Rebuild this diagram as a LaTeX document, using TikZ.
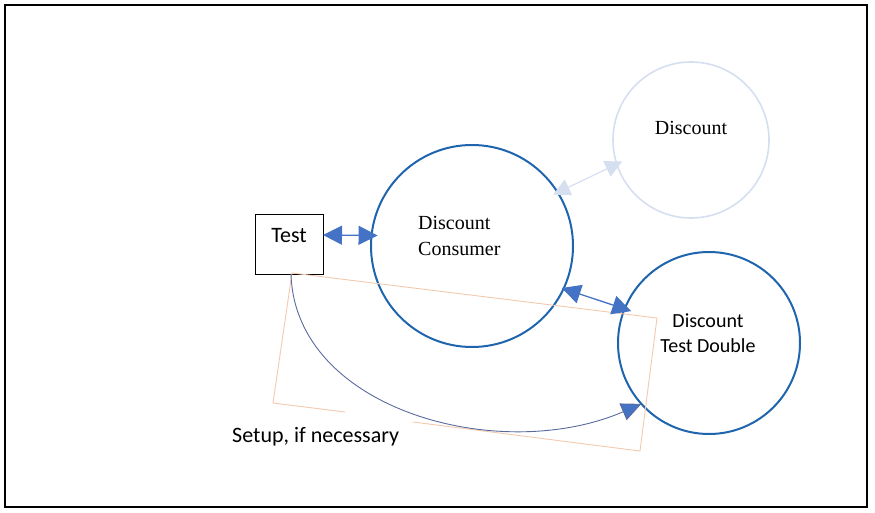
\documentclass[tikz,border=0pt]{standalone}
\usepackage{fontspec}
\setmainfont{Liberation Serif}
\newfontfamily\calib{Carlito}
\usetikzlibrary{arrows.meta}
\definecolor{circblue}{HTML}{1F65AE}
\definecolor{headblue}{HTML}{4472C4}
\definecolor{paleblue}{HTML}{D5DFF0}
\definecolor{paleorange}{HTML}{F3C9AE}
\definecolor{curveblue}{HTML}{5A6A9C}
\tikzset{
  bigcirc/.style={circle, draw=circblue, line width=2pt, inner sep=0pt, outer sep=0pt},
  palecirc/.style={circle, draw=paleblue, line width=1.6pt, inner sep=0pt, outer sep=0pt},
  testbox/.style={draw=black, line width=0.9pt, minimum width=68pt, minimum height=60pt, inner sep=0pt, outer sep=0pt},
  bighead/.style={Triangle[length=19pt,width=19pt]},
  dblarrow/.style={draw=headblue, line width=1.3pt, {Triangle[length=19pt,width=19pt]}-{Triangle[length=19pt,width=19pt]}},
  palearrow/.style={draw=paleblue, line width=1.2pt, {Triangle[length=17pt,width=17pt]}-{Triangle[length=17pt,width=17pt]}},
  sanslbl/.style={font=\calib\fontsize{22}{26}\selectfont, inner sep=0pt},
  seriflbl/.style={font=\fontsize{20}{26}\selectfont, inner sep=0pt},
}
\begin{document}
\begin{tikzpicture}[x=1pt,y=-1pt]
\useasboundingbox (0,0) rectangle (875,513);
\draw[line width=2pt] (5,5) rectangle (867,507);
% nodes
\node[testbox] (test) at (289,244) {};
\node[sanslbl, anchor=base] (testlbl) at (289,242) {Test};
\node[bigcirc, minimum size=202pt] (cons) at (472,246) {};
\node[seriflbl, anchor=base west, align=left] (conslbl) at (418,255) {Discount\\Consumer};
\node[palecirc, minimum size=156pt] (disc) at (691,140) {};
\node[seriflbl, anchor=base] (disclbl) at (691,135) {Discount};
\node[bigcirc, minimum size=182pt] (td) at (709,343) {};
\node[sanslbl, font=\calib\fontsize{20}{25}\selectfont, anchor=base, align=center] (tdlbl) at (708,352) {Discount\\Test Double};
% orange frame
\coordinate (o1) at (292,273);
\coordinate (o2) at (657,318);
\coordinate (o3) at (640,451);
\coordinate (o4) at (273,403);
\coordinate (g1) at (345,412);
\coordinate (g2) at (413,422);
\draw[paleorange, line width=0.9pt] (g1) -- (o4) -- (o1) -- (o2) -- (o3) -- (g2);
% label
\node[sanslbl, anchor=base west] (setup) at (232,442) {Setup, if necessary};
% connectors
\draw[dblarrow, shorten >=-6pt] ([yshift=9pt]test.east) -- (cons.174);
\draw[palearrow, shorten <=-5pt, shorten >=-6pt] (cons.32) -- (disc.198);
\draw[dblarrow, shorten <=-2pt, shorten >=-7pt] (cons.-25) -- (td.158);
\draw[curveblue, line width=0.9pt, -{Triangle[length=20pt,width=18pt,fill=headblue]}]
  ([xshift=2pt]test.south) .. controls (295,410) and (500,465) .. (td.222);
\end{tikzpicture}
\end{document}
